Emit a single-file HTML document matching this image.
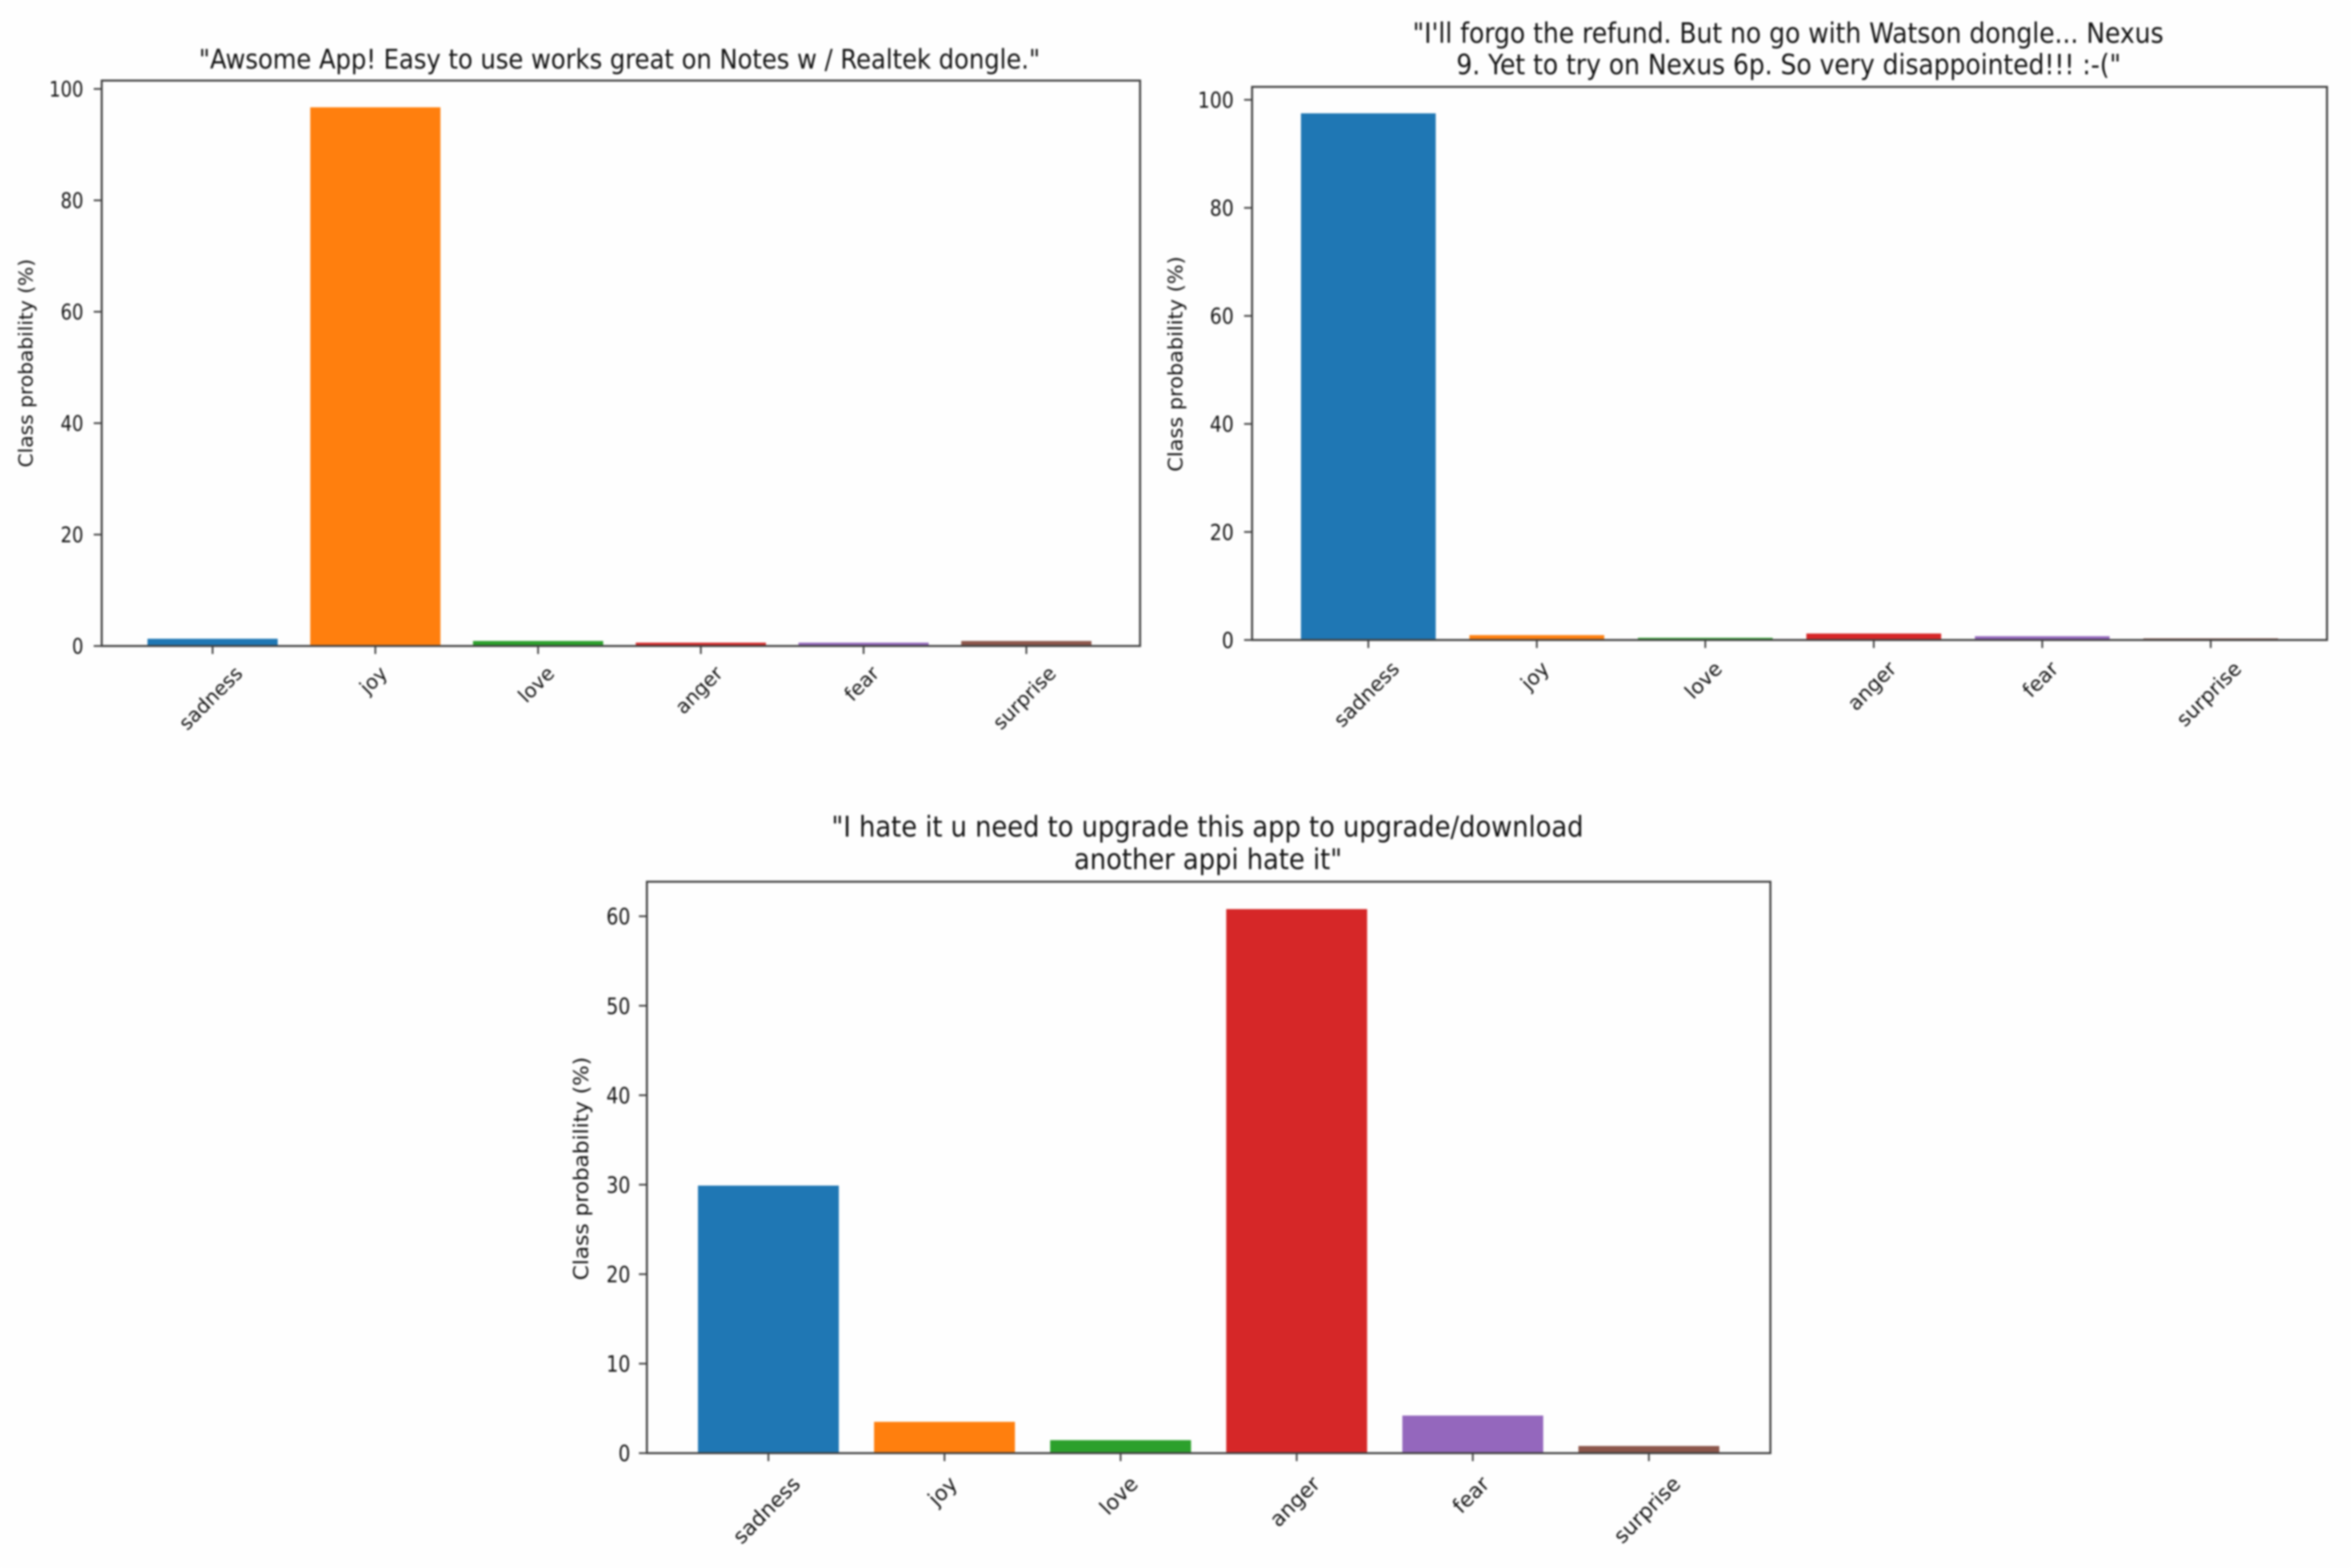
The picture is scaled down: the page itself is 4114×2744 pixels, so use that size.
<!DOCTYPE html>
<html lang="en">
<head>
<meta charset="utf-8">
<title>Class probability charts</title>
<style>
html,body{margin:0;padding:0;background:#fefefe;width:4114px;height:2744px;overflow:hidden}
svg{display:block;filter:blur(1.5px)}
text{font-family:"DejaVu Sans","Liberation Sans",sans-serif;fill:#141414}
</style>
</head>
<body>
<svg id="figure" xmlns="http://www.w3.org/2000/svg" width="4114" height="2744" viewBox="0 0 4114 2744">
  <rect x="0" y="0" width="4114" height="2744" fill="#fefefe"/>

  <g id="chart-a"></g>
  <g id="chart-b"></g>
  <g id="chart-c"></g>

  <text x="1084" y="120" font-size="47" text-anchor="middle" textLength="1472" lengthAdjust="spacingAndGlyphs">"Awsome App! Easy to use works great on Notes w / Realtek dongle."</text>
  <text transform="translate(57,635.5) rotate(-90)" font-size="34" text-anchor="middle" textLength="365" lengthAdjust="spacingAndGlyphs">Class probability (%)</text>

  <text x="3129" y="75" font-size="49" text-anchor="middle" textLength="1314" lengthAdjust="spacingAndGlyphs">"I'll forgo the refund. But no go with Watson dongle... Nexus</text>
  <text x="3130" y="130" font-size="49" text-anchor="middle" textLength="1163" lengthAdjust="spacingAndGlyphs">9. Yet to try on Nexus 6p. So very disappointed!!! :-("</text>
  <text transform="translate(2069,637) rotate(-90)" font-size="35" text-anchor="middle" textLength="377" lengthAdjust="spacingAndGlyphs">Class probability (%)</text>

  <text x="2113" y="1464" font-size="50" text-anchor="middle" textLength="1316" lengthAdjust="spacingAndGlyphs">"I hate it u need to upgrade this app to upgrade/download</text>
  <text x="2114" y="1521" font-size="50" text-anchor="middle" textLength="469" lengthAdjust="spacingAndGlyphs">another appi hate it"</text>
  <text transform="translate(1029,2045) rotate(-90)" font-size="36" text-anchor="middle" textLength="391" lengthAdjust="spacingAndGlyphs">Class probability (%)</text>
</svg>
<script>
const categories = ['sadness', 'joy', 'love', 'anger', 'fear', 'surprise'];
const barColors = ['#1f77b4', '#ff7f0e', '#2ca02c', '#d62728', '#9467bd', '#8c564b'];

const awsomeValues = [1.3, 96.7, 0.9, 0.6, 0.6, 0.9];
const forgoValues = [97.5, 0.9, 0.4, 1.2, 0.7, 0.3];
const hateValues = [29.9, 3.5, 1.45, 60.8, 4.2, 0.8];

const awsomeTicks = [0, 20, 40, 60, 80, 100];
const forgoTicks = [0, 20, 40, 60, 80, 100];
const hateTicks = [0, 10, 20, 30, 40, 50, 60];

const SVGNS = 'http://www.w3.org/2000/svg';

function mk(parent, tag, attrs, content) {
  const el = document.createElementNS(SVGNS, tag);
  for (const k in attrs) el.setAttribute(k, attrs[k]);
  if (content !== undefined) el.textContent = content;
  parent.appendChild(el);
  return el;
}

function drawChart(cfg) {
  const root = document.getElementById(cfg.id);
  const plotWidth = cfg.right - cfg.left;
  const step = plotWidth / 6.38;
  const xScale = function (i) { return cfg.left + (i + 0.69) * step + cfg.xShift; };
  const yScale = function (v) { return cfg.bottom - (v / cfg.yMax) * (cfg.bottom - cfg.top); };
  const barWidth = step * 0.8;

  cfg.values.forEach(function (v, i) {
    const bar = mk(root, 'rect', {
      x: xScale(i) - barWidth / 2,
      y: yScale(v),
      width: barWidth,
      height: yScale(0) - yScale(v),
      fill: barColors[i]
    });
    
    
  });

  const frame = mk(root, 'rect', {
    x: cfg.left,
    y: cfg.top,
    width: plotWidth,
    height: cfg.bottom - cfg.top,
    fill: 'none',
    stroke: '#404040',
    'stroke-width': 3.5
  });
  
  

  cfg.ticks.forEach(function (t) {
    const y = yScale(t);
    const tick = mk(root, 'line', {
      x1: cfg.left - 14, x2: cfg.left, y1: y, y2: y,
      stroke: '#404040', 'stroke-width': 3
    });
    
    

    const label = String(t);
    const lab = mk(root, 'text', {
      x: cfg.left - cfg.tickGap,
      y: y + cfg.tickFont * 0.365,
      'font-size': cfg.tickFont,
      'text-anchor': 'end',
      textLength: label.length * cfg.digitWidth,
      lengthAdjust: 'spacingAndGlyphs'
    }, label);
    
    
  });

  categories.forEach(function (c, i) {
    const x = xScale(i);
    const tick = mk(root, 'line', {
      x1: x, x2: x, y1: cfg.bottom, y2: cfg.bottom + 14,
      stroke: '#404040', 'stroke-width': 3
    });
    
    

    const lab = mk(root, 'text', {
      'font-size': cfg.xFont,
      'text-anchor': 'middle'
    }, c);
    
    
    const w = lab.getComputedTextLength();
    const cy = cfg.bottom + cfg.xTop + (w + 0.9 * cfg.xFont) * 0.7071 / 2;
    lab.setAttribute('transform', 'translate(' + (x - 3) + ',' + cy + ') rotate(-45) translate(0,' + (cfg.xFont * 0.33) + ')');
  });
}

drawChart({
  id: 'chart-a', values: awsomeValues, ticks: awsomeTicks, yMax: 101.5,
  left: 178, right: 1995, top: 141, bottom: 1130.5, xShift: -2.5,
  tickFont: 37, digitWidth: 20, tickGap: 32, xFont: 34.5, xTop: 31
});
drawChart({
  id: 'chart-b', values: forgoValues, ticks: forgoTicks, yMax: 102.4,
  left: 2191, right: 4072, top: 152, bottom: 1120, xShift: 0,
  tickFont: 38, digitWidth: 21, tickGap: 32, xFont: 35.5, xTop: 33
});
drawChart({
  id: 'chart-c', values: hateValues, ticks: hateTicks, yMax: 63.86,
  left: 1132, right: 3098, top: 1543, bottom: 2543, xShift: 0,
  tickFont: 39, digitWidth: 21, tickGap: 29, xFont: 36.5, xTop: 36
});
</script>
</body>
</html>
